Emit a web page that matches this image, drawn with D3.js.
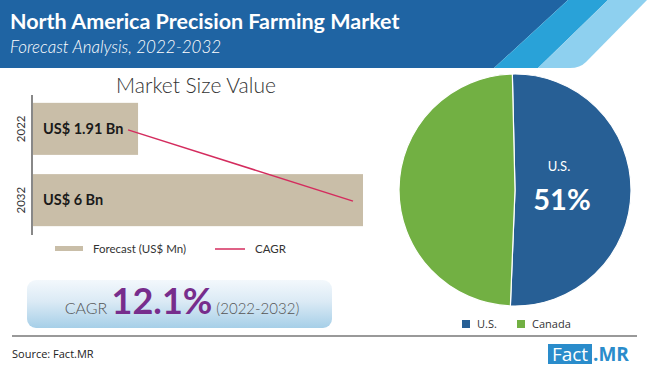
<!DOCTYPE html>
<html>
<head>
<meta charset="utf-8">
<script src="https://cdn.jsdelivr.net/npm/d3@7"></script>
<style>
  body { margin: 0; background: #fff; }
  svg { display: block; font-family: "Lato", "Open Sans", sans-serif; }
</style>
</head>
<body>
<div class="chart"></div>
<script>
// data
var years = ["2022", "2032"];
var marketValues = [1.91, 6];
var valueLabels = ["US$ 1.91 Bn", "US$ 6 Bn"];
var regions = ["U.S.", "Canada"];
var shares = [51, 49];
var regionColors = ["#275f95", "#72b043"];
var cagrText = "12.1%";

var width = 650, height = 370;

var svg = d3.select(".chart")
    .append("svg")
    .attr("width", width)
    .attr("height", height);

var defs = svg.append("defs");
var grad = defs.append("linearGradient")
    .attr("id", "boxGrad")
    .attr("x1", 0).attr("y1", 0).attr("x2", 0).attr("y2", 1);
grad.append("stop").attr("offset", "0%").attr("stop-color", "#f3f8fc");
grad.append("stop").attr("offset", "45%").attr("stop-color", "#dbeaf5");
grad.append("stop").attr("offset", "100%").attr("stop-color", "#a6cfe8");

// header band
svg.append("polygon")
    .attr("points", "0,0 568,0 494,68 0,68")
    .style("fill", "#1f64a3");
svg.append("polygon")
    .attr("points", "568,0 608,0 538,68 494,68")
    .style("fill", "#29a2d8");
svg.append("path")
    .attr("d", "M608,0 L647,0 L586,62 Q580,68 570,68 L538,68 Z")
    .style("fill", "#8ed0ef");

svg.append("text")
    .attr("x", 10).attr("y", 29)
    .style("fill", "#fff")
    .style("font-size", "21.5px")
    .style("font-weight", "bold")
    .text("North America Precision Farming Market");
svg.append("text")
    .attr("x", 10).attr("y", 53)
    .style("fill", "#fff")
    .style("font-size", "17px")
    .style("font-style", "italic")
    .style("font-weight", 300)
    .text("Forecast Analysis, 2022-2032");

// bar chart
svg.append("text")
    .attr("x", 196).attr("y", 93)
    .attr("text-anchor", "middle")
    .style("fill", "#333")
    .style("font-size", "21px")
    .style("font-weight", 300)
    .text("Market Size Value");

var x = d3.scaleLinear().domain([0, 6]).range([33, 363]);
var y = d3.scaleBand().domain(years).range([95, 234])
    .paddingInner(0.27).paddingOuter(0.11);

svg.selectAll(".bar")
    .data(marketValues)
    .enter()
    .append("rect")
    .attr("class", "bar")
    .attr("x", x(0))
    .attr("y", function (d, i) { return y(years[i]); })
    .attr("width", function (d) { return x(d) - x(0); })
    .attr("height", y.bandwidth())
    .style("fill", "#c9bea8");

svg.append("line")
    .attr("x1", 32).attr("x2", 32)
    .attr("y1", 95).attr("y2", 235)
    .style("stroke", "#888")
    .style("stroke-width", 2);

svg.selectAll(".yearLabel")
    .data(years)
    .enter()
    .append("text")
    .attr("class", "yearLabel")
    .attr("transform", function (d) {
        return "translate(25," + (y(d) + y.bandwidth() / 2) + ") rotate(-90)";
    })
    .attr("text-anchor", "middle")
    .style("fill", "#333")
    .style("font-size", "11.5px")
    .text(function (d) { return d; });

svg.selectAll(".valueLabel")
    .data(valueLabels)
    .enter()
    .append("text")
    .attr("class", "valueLabel")
    .attr("x", 43)
    .attr("y", function (d, i) { return y(years[i]) + y.bandwidth() / 2 + 5; })
    .style("fill", "#1a1a1a")
    .style("font-size", "14.5px")
    .style("font-weight", "bold")
    .text(function (d) { return d; });

// CAGR line between bar ends
var cagrLine = d3.line()
    .x(function (d) { return x(d) - 10; })
    .y(function (d, i) { return y(years[i]) + y.bandwidth() / 2 + 1; });
svg.append("path")
    .datum(marketValues)
    .attr("d", cagrLine)
    .style("fill", "none")
    .style("stroke", "#d42c5e")
    .style("stroke-width", 1.5);

// bar legend
svg.append("rect")
    .attr("x", 55).attr("y", 246)
    .attr("width", 28).attr("height", 5)
    .style("fill", "#c9bea8");
svg.append("text")
    .attr("x", 93).attr("y", 253)
    .style("fill", "#333")
    .style("font-size", "11.5px")
    .text("Forecast (US$ Mn)");
svg.append("line")
    .attr("x1", 215).attr("x2", 245)
    .attr("y1", 249).attr("y2", 249)
    .style("stroke", "#d42c5e")
    .style("stroke-width", 1.5);
svg.append("text")
    .attr("x", 255).attr("y", 253)
    .style("fill", "#333")
    .style("font-size", "11.5px")
    .text("CAGR");

// CAGR box
svg.append("rect")
    .attr("x", 27).attr("y", 280)
    .attr("width", 305).attr("height", 48)
    .attr("rx", 9)
    .style("fill", "url(#boxGrad)");
var cagrLabel = svg.append("text")
    .attr("x", 182).attr("y", 314)
    .attr("text-anchor", "middle")
    .style("fill", "#555");
cagrLabel.append("tspan")
    .style("font-size", "16px")
    .style("font-weight", 300)
    .text("CAGR ");
cagrLabel.append("tspan")
    .style("font-size", "36px")
    .style("font-weight", "bold")
    .style("fill", "#772d8c")
    .text(cagrText);
cagrLabel.append("tspan")
    .style("font-size", "15px")
    .style("font-weight", 300)
    .text(" (2022-2032)");

// pie
var cx = 515, cy = 190, r = 116;
var pie = d3.pie().sort(null)
    .startAngle(-0.023)
    .endAngle(2 * Math.PI - 0.023);
var arc = d3.arc().innerRadius(0).outerRadius(r);
var pieG = svg.append("g")
    .attr("transform", "translate(" + cx + "," + cy + ")");
pieG.selectAll(".slice")
    .data(pie(shares))
    .enter()
    .append("path")
    .attr("class", "slice")
    .attr("d", arc)
    .style("fill", function (d, i) { return regionColors[i]; })
    .style("stroke", "#fff")
    .style("stroke-width", 1.2);

var labelArc = d3.arc().innerRadius(44).outerRadius(44);
var usSlice = pie(shares)[0];
var c = labelArc.centroid(usSlice);
pieG.append("text")
    .attr("x", c[0]).attr("y", c[1] - 19)
    .attr("text-anchor", "middle")
    .style("fill", "#fff")
    .style("font-size", "13px")
    .text(regions[0]);
pieG.append("text")
    .attr("x", c[0] + 3).attr("y", c[1] + 20)
    .attr("text-anchor", "middle")
    .style("fill", "#fff")
    .style("font-size", "29px")
    .style("font-weight", "bold")
    .text(shares[0] + "%");

// pie legend
var legX = [462, 517];
regions.forEach(function (d, i) {
    svg.append("rect")
        .attr("x", legX[i]).attr("y", 320)
        .attr("width", 8).attr("height", 8)
        .style("fill", regionColors[i]);
    svg.append("text")
        .attr("x", legX[i] + 15).attr("y", 328)
        .style("fill", "#333")
        .style("font-size", "11px")
        .style("font-family", "'Open Sans', sans-serif")
        .text(d);
});

// footer
svg.append("line")
    .attr("x1", 12).attr("x2", 637)
    .attr("y1", 336).attr("y2", 336)
    .style("stroke", "#999")
    .style("stroke-width", 2);
svg.append("text")
    .attr("x", 12).attr("y", 358)
    .style("fill", "#222")
    .style("font-size", "11px")
    .style("font-family", "'Open Sans', sans-serif")
    .text("Source: Fact.MR");

svg.append("rect")
    .attr("x", 548).attr("y", 344)
    .attr("width", 44).attr("height", 20)
    .style("fill", "#2a8ccb");
svg.append("text")
    .attr("x", 570).attr("y", 361)
    .attr("text-anchor", "middle")
    .style("fill", "#fff")
    .style("font-size", "19px")
    .style("font-family", "'Open Sans', sans-serif")
    .text("Fact");
svg.append("text")
    .attr("x", 593).attr("y", 361)
    .style("fill", "#2a8ccb")
    .style("font-size", "19px")
    .style("font-weight", "bold")
    .style("font-family", "'Open Sans', sans-serif")
    .text(".MR");
</script>
</body>
</html>
